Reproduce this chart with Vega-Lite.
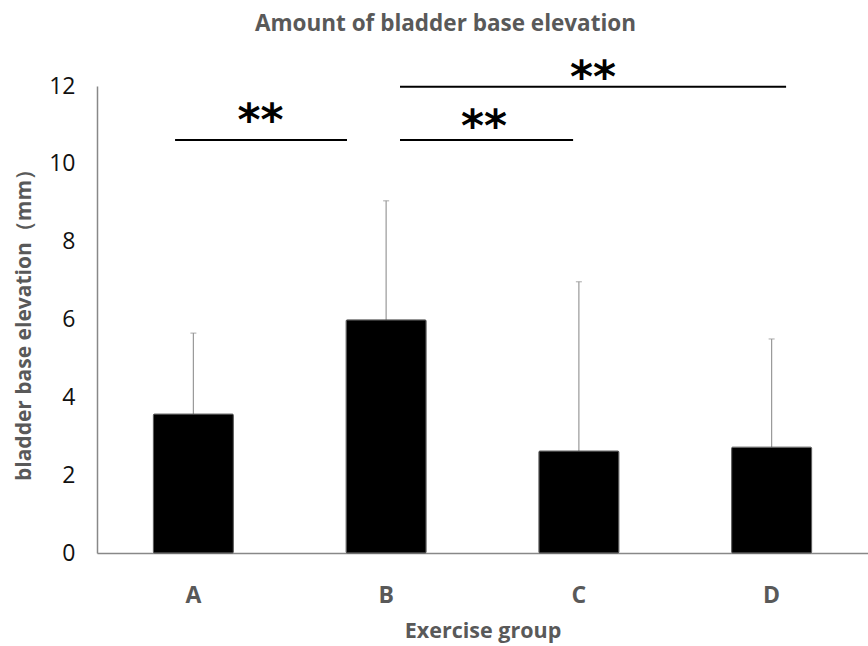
{
  "$schema": "https://vega.github.io/schema/vega-lite/v6.json",
  "autosize": "none",
  "width": 771,
  "height": 467,
  "padding": {"left": 97, "top": 86, "right": 0, "bottom": 93},
  "background": "white",
  "config": {
    "view": {"stroke": null},
    "font": "Open Sans"
  },
  "title": {
    "text": "Amount of  bladder  base elevation",
    "fontSize": 22.5,
    "fontWeight": "bold",
    "color": "#595959",
    "font": "Open Sans",
    "anchor": "middle",
    "dx": -37,
    "offset": 22
  },
  "datasets": {
    "bars": [
      {"group": "A", "mean": 3.57, "upper": 5.65},
      {"group": "B", "mean": 5.99, "upper": 9.05},
      {"group": "C", "mean": 2.62, "upper": 6.97},
      {"group": "D", "mean": 2.72, "upper": 5.5}
    ],
    "brackets": [
      {"pair": "A-B", "start": 0.405, "end": 1.297, "level": 10.61, "mid": 0.848, "star": 11.07},
      {"pair": "B-C", "start": 1.572, "end": 2.47, "level": 10.61, "mid": 2.008, "star": 10.92},
      {"pair": "B-D", "start": 1.572, "end": 3.575, "level": 11.98, "mid": 2.573, "star": 12.17}
    ]
  },
  "layer": [
    {
      "data": {"name": "bars"},
      "layer": [
        {
          "mark": {"type": "rule", "color": "#999999", "strokeWidth": 1.2},
          "encoding": {
            "x": {"field": "group", "type": "nominal"},
            "y": {"field": "mean", "type": "quantitative"},
            "y2": {"field": "upper"}
          }
        },
        {
          "mark": {"type": "tick", "color": "#999999", "size": 6, "thickness": 1.2},
          "encoding": {
            "x": {"field": "group", "type": "nominal"},
            "y": {"field": "upper", "type": "quantitative"}
          }
        },
        {
          "mark": {"type": "bar", "color": "black", "stroke": "#555555", "strokeWidth": 1, "width": 80, "cornerRadius": 1},
          "encoding": {
            "x": {
              "field": "group",
              "type": "nominal",
              "scale": {"paddingInner": 0, "paddingOuter": 0},
              "axis": {
                "title": "Exercise group",
                "titleFontSize": 21.5,
                "titleFontWeight": "bold",
                "titleColor": "#595959",
                "titleFont": "Open Sans",
                "titlePadding": 13,
                "labelAngle": 0,
                "labelAlign": "center",
                "labelFontSize": 23,
                "labelFontWeight": "bold",
                "labelColor": "#595959",
                "labelFont": "Open Sans",
                "labelPadding": 42,
                "ticks": false,
                "domainColor": "#888888",
                "domainWidth": 1.5
              }
            },
            "y": {
              "field": "mean",
              "type": "quantitative",
              "scale": {"domain": [0, 12], "nice": false},
              "axis": {
                "title": "bladder base elevation（mm）",
                "titleFontSize": 21,
                "titleFontWeight": "bold",
                "titleColor": "#595959",
                "titleFont": "Open Sans",
                "titlePadding": 14,
                "values": [0, 2, 4, 6, 8, 10, 12],
                "labelFontSize": 23,
                "labelColor": "#111111",
                "labelFont": "Open Sans",
                "labelPadding": 22,
                "ticks": false,
                "grid": false,
                "domainColor": "#888888",
                "domainWidth": 1.5
              }
            }
          }
        }
      ]
    },
    {
      "data": {"name": "brackets"},
      "layer": [
        {
          "mark": {"type": "rule", "color": "black", "strokeWidth": 2},
          "encoding": {
            "x": {"field": "start", "type": "quantitative", "scale": {"domain": [0, 4], "nice": false, "zero": false}, "axis": null},
            "x2": {"field": "end"},
            "y": {"field": "level", "type": "quantitative"}
          }
        },
        {
          "mark": {"type": "text", "text": "**", "fontSize": 44, "fontWeight": "bold", "color": "black", "font": "DejaVu Sans", "baseline": "middle", "align": "center"},
          "encoding": {
            "x": {"field": "mid", "type": "quantitative", "scale": {"domain": [0, 4], "nice": false, "zero": false}, "axis": null},
            "y": {"field": "star", "type": "quantitative"}
          }
        }
      ]
    }
  ],
  "resolve": {"scale": {"x": "independent"}}
}
